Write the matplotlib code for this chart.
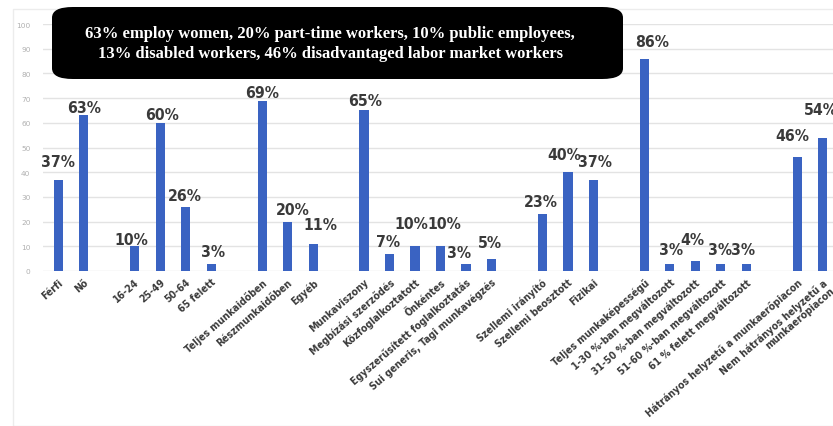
import matplotlib.pyplot as plt
from matplotlib import font_manager
from matplotlib.patches import FancyBboxPatch, Rectangle

# Munkavállalói összetétel, csoportonként (százalék)
GENDER = ["Férfi", "Nő"]
GENDER_PCT = [37, 63]

AGE = ["16-24", "25-49", "50-64", "65 felett"]
AGE_PCT = [10, 60, 26, 3]

WORKTIME = ["Teljes munkaidőben", "Részmunkaidőben", "Egyéb"]
WORKTIME_PCT = [69, 20, 11]

CONTRACT = ["Munkaviszony", "Megbízási szerződés", "Közfoglalkoztatott",
            "Önkéntes", "Egyszerűsített foglalkoztatás",
            "Sui generis, Tagi munkavégzés"]
CONTRACT_PCT = [65, 7, 10, 10, 3, 5]

JOB = ["Szellemi irányító", "Szellemi beosztott", "Fizikai"]
JOB_PCT = [23, 40, 37]

ABILITY = ["Teljes munkaképességű", "1-30 %-ban megváltozott",
           "31-50 %-ban megváltozott", "51-60 %-ban megváltozott",
           "61 % felett megváltozott"]
ABILITY_PCT = [86, 3, 4, 3, 3]

LABOUR = ["Hátrányos helyzetű a munkaerőpiacon",
          "Nem hátrányos helyzetű a\nmunkaerőpiacon"]
LABOUR_PCT = [46, 54]

Y_TICKS = list(range(0, 101, 10))

HEADLINE = ("63% employ women, 20% part-time workers, 10% public employees,\n"
            "13% disabled workers, 46% disadvantaged labor market workers")

GROUPS = [
    (GENDER, GENDER_PCT),
    (AGE, AGE_PCT),
    (WORKTIME, WORKTIME_PCT),
    (CONTRACT, CONTRACT_PCT),
    (JOB, JOB_PCT),
    (ABILITY, ABILITY_PCT),
    (LABOUR, LABOUR_PCT),
]

# a feliratok kézzel lettek elhúzva az eredeti diagramon (dx, dy pixelben)
LABEL_NUDGE = [
    (0, 14), (0, 3),
    (-3, 2), (2, 4), (-1, 7), (2, 8),
    (0, 4), (5, 8), (7, 15),
    (1, 5), (-2, 8), (-4, 18), (4, 18), (-7, 7), (-1, 12),
    (-2, 8), (-4, 13), (2, 14),
    (8, 13), (1, 10), (-3, 17), (-1, 10), (-3, 10),
    (-5, 17), (-2, 24),
]

BAR_COLOR = "#3a63c2"
TEXT_COLOR = "#3a3a3a"

# keskeny, félkövér betű a feliratokhoz
narrow = font_manager.FontProperties(family="DejaVu Sans", stretch="condensed",
                                     weight="bold")

# pozíciók: csoportok között egy üres hely
labels, values, xpos = [], [], []
pos = 0
for names, pcts in GROUPS:
    for name, pct in zip(names, pcts):
        labels.append(name)
        values.append(pct)
        xpos.append(pos)
        pos += 1
    pos += 1

W, H = 833, 427
fig = plt.figure(figsize=(W / 100, H / 100), dpi=100)

# halvány keret a diagram körül
fig.patches.append(Rectangle((13 / W, 0), 1, 1 - 10 / H, transform=fig.transFigure,
                             fill=False, edgecolor="#ececec", linewidth=1.0))

left_px, right_px = 43, 861
bottom_px, top_px = 272, 25
ax = fig.add_axes([left_px / W, 1 - bottom_px / H,
                   (right_px - left_px) / W, (bottom_px - top_px) / H])

ax.bar(xpos, values, width=0.36, color=BAR_COLOR, zorder=3)

for x, v, (dx, dy) in zip(xpos, values, LABEL_NUDGE):
    ax.annotate(f"{v}%", (x, v), xytext=(dx, dy), textcoords="offset pixels",
                ha="center", va="baseline", fontproperties=narrow,
                fontsize=11.3, color=TEXT_COLOR)

ax.set_xlim(-0.6, 31.5)
ax.set_ylim(0, 100)
ax.set_yticks(Y_TICKS)
ax.set_yticklabels([str(t) for t in Y_TICKS], fontsize=5.3, color="#b0b0b0")
ax.tick_params(axis="y", length=0, pad=9)
ax.grid(axis="y", color="#e3e3e3", linewidth=1.0, zorder=0)
for side in ax.spines.values():
    side.set_visible(False)

ax.set_xticks(xpos)
ax.set_xticklabels(labels, rotation=41, ha="right", rotation_mode="anchor",
                   fontproperties=narrow, color=TEXT_COLOR, linespacing=0.95)
for t in ax.get_xticklabels():
    t.set_fontsize(7.5)
ax.tick_params(axis="x", length=0, pad=4)

# fekete kiemelő doboz a fő számokkal
box = FancyBboxPatch((52 / W, 1 - 80 / H), (623 - 52) / W, 72 / H,
                     boxstyle="round,pad=0,rounding_size=0.025",
                     transform=fig.transFigure, facecolor="black",
                     edgecolor="none", zorder=10)
fig.patches.append(box)
fig.text(330 / W, 1 - 44 / H, HEADLINE, ha="center", va="center",
         fontsize=12, fontweight="bold", family="Liberation Serif",
         color="white", linespacing=1.3, zorder=11)

fig.savefig("out.png", dpi=100)
